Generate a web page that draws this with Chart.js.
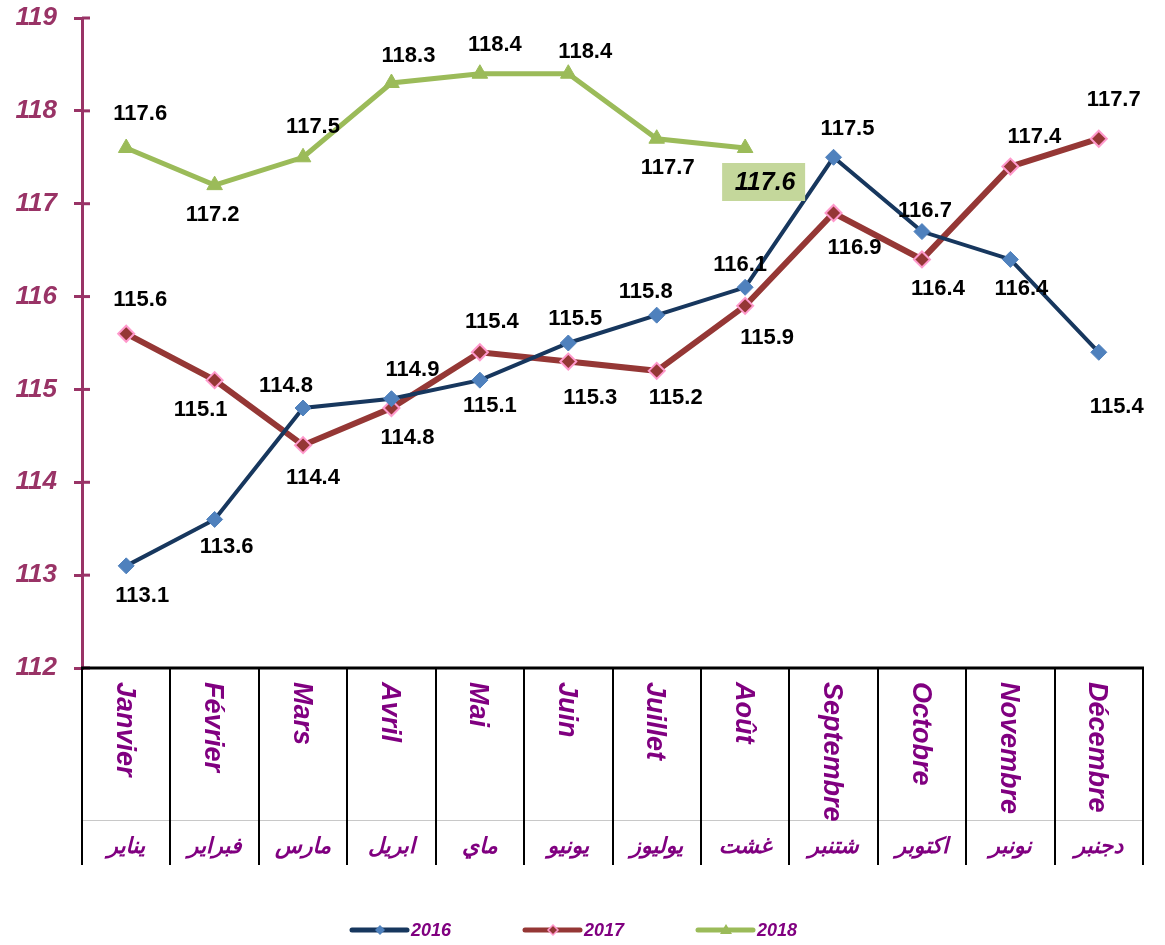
<!DOCTYPE html>
<html>
<head>
<meta charset="utf-8">
<script src="https://cdn.jsdelivr.net/npm/chart.js@4"></script>
<style>
  body { margin: 0; background: #fff; }
</style>
</head>
<body>
<canvas id="line-chart" width="1165" height="945"></canvas>
<script>
// Monthly index - Line chart
const monthsFr = ["Janvier", "Février", "Mars", "Avril", "Mai", "Juin", "Juillet", "Août", "Septembre", "Octobre", "Novembre", "Décembre"];
const monthsAr = ["يناير", "فبراير", "مارس", "ابريل", "ماي", "يونيو", "يوليوز", "غشت", "شتنبر", "اكتوبر", "نونبر", "دجنبر"];
const values2016 = [113.1, 113.6, 114.8, 114.9, 115.1, 115.5, 115.8, 116.1, 117.5, 116.7, 116.4, 115.4];
const values2017 = [115.6, 115.1, 114.4, 114.8, 115.4, 115.3, 115.2, 115.9, 116.9, 116.4, 117.4, 117.7];
const values2018 = [117.6, 117.2, 117.5, 118.3, 118.4, 118.4, 117.7, 117.6, null, null, null, null];
const yTicks = [112, 113, 114, 115, 116, 117, 118, 119];

// label offsets from each point (dx, dy)
const offs2016 = [[16, 30], [12, 28], [-17, -22], [21, -29], [10, 26], [7, -24], [-11, -23], [-5, -22], [14, -28], [3, -21], [11, 30], [18, 55]];
const offs2017 = [[14, -34], [-14, 30], [10, 33], [16, 30], [12, -30], [22, 36], [19, 27], [22, 32], [21, 35], [16, 30], [24, -30], [15, -39]];
const offs2018 = [[14, -34], [-2, 30], [10, -30], [17, -27], [15, -29], [17, -22], [11, 29], null];

const FONT = "'Liberation Sans', Arial, sans-serif";
const PURPLE = "#800080";
const AXIS = "#993366";

const tablePlugin = {
  id: "tablePlugin",
  afterDatasetsDraw(chart) {
    const ctx = chart.ctx;
    const y = chart.scales.y;
    const area = chart.chartArea;

    // inner half of the axis ticks
    ctx.save();
    ctx.strokeStyle = AXIS;
    ctx.lineWidth = 3;
    yTicks.forEach((t) => {
      const py = y.getPixelForValue(t);
      ctx.beginPath();
      ctx.moveTo(area.left, py);
      ctx.lineTo(area.left + 8, py);
      ctx.stroke();
    });
    ctx.restore();

    // data labels
    ctx.save();
    ctx.font = "bold 22px " + FONT;
    ctx.fillStyle = "#000";
    ctx.textAlign = "center";
    ctx.textBaseline = "middle";
    const sets = [[values2016, offs2016, 0], [values2017, offs2017, 1], [values2018, offs2018, 2]];
    sets.forEach(([vals, offs, di]) => {
      const meta = chart.getDatasetMeta(di);
      vals.forEach((v, i) => {
        if (v === null || !offs[i]) return;
        const pt = meta.data[i];
        ctx.fillText(v.toFixed(1), pt.x + offs[i][0], pt.y + offs[i][1]);
      });
    });

    // highlighted last 2018 value
    const last = chart.getDatasetMeta(2).data[7];
    const bx = last.x + 18, by = last.y + 34;
    ctx.fillStyle = "#C4D79B";
    ctx.fillRect(bx - 41, by - 19, 83, 38);
    ctx.fillStyle = "#000";
    ctx.font = "bold italic 25px " + FONT;
    ctx.fillText(values2018[7].toFixed(1), bx + 2, by + 1);
    ctx.restore();
  },
  afterDraw(chart) {
    const ctx = chart.ctx;
    const x = chart.scales.x;
    const area = chart.chartArea;
    const top = area.bottom;
    const bottom = 865;
    const colW = (area.right - area.left) / monthsFr.length;

    ctx.save();
    // grey separator between the two label rows
    ctx.strokeStyle = "#c8c8c8";
    ctx.lineWidth = 1;
    ctx.beginPath();
    ctx.moveTo(area.left, 820.5);
    ctx.lineTo(area.right, 820.5);
    ctx.stroke();

    ctx.strokeStyle = "#000";
    ctx.lineWidth = 2;
    for (let i = 0; i <= monthsFr.length; i++) {
      const px = Math.round(area.left + i * colW);
      ctx.beginPath();
      ctx.moveTo(px, top);
      ctx.lineTo(px, bottom);
      ctx.stroke();
    }
    ctx.lineWidth = 3;
    ctx.beginPath();
    ctx.moveTo(area.left - 1, top);
    ctx.lineTo(area.right + 1, top);
    ctx.stroke();

    // month names
    ctx.fillStyle = PURPLE;
    monthsFr.forEach((m, i) => {
      const cx = x.getPixelForValue(i);
      ctx.save();
      ctx.translate(cx - 2, top + 14);
      ctx.rotate(Math.PI / 2);
      ctx.font = "bold italic 27px " + FONT;
      ctx.textAlign = "left";
      ctx.textBaseline = "middle";
      ctx.fillText(m, 0, 0);
      ctx.restore();
    });
    ctx.font = "bold italic 22px 'DejaVu Sans', sans-serif";
    ctx.textAlign = "center";
    ctx.textBaseline = "middle";
    ctx.direction = "rtl";
    monthsAr.forEach((m, i) => {
      ctx.fillText(m, x.getPixelForValue(i), 847);
    });
    ctx.direction = "ltr";

    // legend
    const legendY = 930;
    const items = [[352, "2016"], [525, "2017"], [698, "2018"]];
    items.forEach(([lx, txt], di) => {
      const ds = chart.data.datasets[di];
      ctx.strokeStyle = ds.borderColor;
      ctx.lineWidth = 5;
      ctx.lineCap = "round";
      ctx.beginPath();
      ctx.moveTo(lx, legendY);
      ctx.lineTo(lx + 55, legendY);
      ctx.stroke();
      const mx = lx + 28;
      ctx.fillStyle = ds.pointBackgroundColor;
      ctx.strokeStyle = ds.pointBorderColor;
      ctx.lineWidth = 1.5;
      ctx.beginPath();
      if (di === 2) {
        ctx.moveTo(mx, legendY - 6);
        ctx.lineTo(mx + 6, legendY + 4);
        ctx.lineTo(mx - 6, legendY + 4);
      } else {
        ctx.moveTo(mx, legendY - 5);
        ctx.lineTo(mx + 5, legendY);
        ctx.lineTo(mx, legendY + 5);
        ctx.lineTo(mx - 5, legendY);
      }
      ctx.closePath();
      ctx.fill();
      if (di === 1) ctx.stroke();
      ctx.fillStyle = PURPLE;
      ctx.font = "bold italic 18px " + FONT;
      ctx.textAlign = "left";
      ctx.fillText(txt, lx + 59, legendY + 1);
    });
    ctx.restore();
  },
};

const lineCtx = document.getElementById("line-chart");

new Chart(lineCtx, {
  type: "line",
  data: {
    labels: monthsFr,
    datasets: [
      {
        label: "2016",
        data: values2016,
        borderColor: "#17375E",
        borderWidth: 4,
        pointStyle: "rectRot",
        pointRadius: 8,
        pointBackgroundColor: "#4F81BD",
        pointBorderColor: "#4F81BD",
        pointBorderWidth: 1,
        tension: 0,
        clip: false,
      },
      {
        label: "2017",
        data: values2017,
        borderColor: "#953735",
        borderWidth: 6,
        pointStyle: "rectRot",
        pointRadius: 8,
        pointBackgroundColor: "#953735",
        pointBorderColor: "#FF99CC",
        pointBorderWidth: 2,
        tension: 0,
        clip: false,
      },
      {
        label: "2018",
        data: values2018,
        borderColor: "#9BBB59",
        borderWidth: 5,
        pointStyle: "triangle",
        pointRadius: 9,
        pointBackgroundColor: "#9BBB59",
        pointBorderColor: "#9BBB59",
        pointBorderWidth: 1,
        tension: 0,
        clip: false,
        spanGaps: false,
      },
    ],
  },
  options: {
    responsive: false,
    animation: false,
    layout: {
      padding: { top: 18, right: 22, bottom: 277, left: 0 },
    },
    plugins: {
      legend: { display: false },
      tooltip: { enabled: false },
    },
    scales: {
      x: {
        display: false,
        offset: true,
      },
      y: {
        min: 112,
        max: 119,
        afterFit(scale) {
          scale.width = 82;
          scale.paddingTop = 0;
          scale.paddingBottom = 0;
        },
        afterBuildTicks(scale) {
          scale.ticks = yTicks.map((v) => ({ value: v }));
        },
        border: { color: AXIS, width: 3 },
        grid: {
          drawOnChartArea: false,
          color: AXIS,
          lineWidth: 3,
          tickLength: 8,
        },
        ticks: {
          padding: 17,
          color: AXIS,
          font: { family: FONT, size: 26, weight: "bold", style: "italic" },
        },
      },
    },
  },
  plugins: [tablePlugin],
});
// Monthly index - Line chart
</script>
</body>
</html>
